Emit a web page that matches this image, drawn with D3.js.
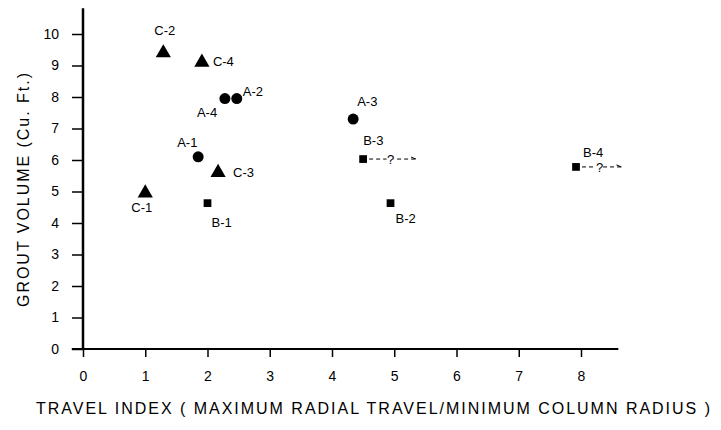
<!DOCTYPE html>
<meta charset="utf-8">
<style>
  body { margin: 0; background: #fff; }
  svg { font-family: "Liberation Sans", Arial, sans-serif; }
  .axis path, .axis line { stroke: #000; stroke-width: 2px; }
  .axis text { font-size: 14px; fill: #000; }
  .pt-label { font-size: 13px; fill: #000; }
  .title { font-size: 16px; fill: #000; }
</style>
<svg width="721" height="430"></svg>
<script src="https://cdn.jsdelivr.net/npm/d3@7/dist/d3.min.js"></script>
<script>

  // data
  var names = ["C-1", "C-2", "C-3", "C-4", "A-1", "A-2", "A-3", "A-4", "B-1", "B-2", "B-3", "B-4"];
  var travel = [1.0, 1.29, 2.17, 1.91, 1.85, 2.47, 4.34, 2.28, 2.0, 4.94, 4.5, 7.92];
  var grout = [4.95, 9.4, 5.6, 9.1, 6.1, 7.95, 7.3, 7.95, 4.63, 4.63, 6.03, 5.78];
  var shapes = ["tri", "tri", "tri", "tri", "circ", "circ", "circ", "circ", "sq", "sq", "sq", "sq"];
  // uncertain travel: dashed "?" arrow reaches this index
  var arrowTo = [null, null, null, null, null, null, null, null, null, null, 5.35, 8.65];

  var xTicks = [0, 1, 2, 3, 4, 5, 6, 7, 8];
  var yTicks = [0, 1, 2, 3, 4, 5, 6, 7, 8, 9, 10];

  // label offsets (px) from the marker, text anchored at start
  var labelPos = {
    "C-1": [-14, 19], "C-2": [-9, -18], "C-3": [15, 4], "C-4": [11, 4],
    "A-1": [-21, -10], "A-2": [6, -3], "A-3": [4, -13], "A-4": [-28, 18],
    "B-1": [4, 24], "B-2": [5, 20], "B-3": [0, -14], "B-4": [7, -10]
  };

  var svg = d3.select("svg");

  var x = d3.scaleLinear().domain([0, 8]).range([83, 581]);
  var y = d3.scaleLinear().domain([0, 10]).range([349, 34]);

  var points = names.map(function (n, i) {
    return { name: n, x: travel[i], y: grout[i], shape: shapes[i], to: arrowTo[i] };
  });

  // axes
  var xAxis = svg.append("g")
    .attr("class", "axis")
    .attr("transform", "translate(0," + y(0) + ")")
    .call(d3.axisBottom(x).tickValues(xTicks).tickFormat(d3.format("d")).tickSize(8).tickPadding(14));
  xAxis.select(".domain").remove();
  xAxis.selectAll(".tick line").style("stroke-width", "1.5px");

  var yAxis = svg.append("g")
    .attr("class", "axis")
    .attr("transform", "translate(" + x(0) + ",0)")
    .call(d3.axisLeft(y).tickValues(yTicks).tickFormat(d3.format("d")).tickSize(11).tickPadding(13));
  yAxis.select(".domain").remove();
  yAxis.selectAll(".tick line").style("stroke-width", "1.5px");

  svg.append("line")
    .attr("x1", x(-0.18)).attr("x2", x(8.6))
    .attr("y1", y(0)).attr("y2", y(0))
    .attr("stroke", "#000").attr("stroke-width", 2);

  svg.append("line")
    .attr("x1", x(0)).attr("x2", x(0))
    .attr("y1", y(0)).attr("y2", y(10.82))
    .attr("stroke", "#000").attr("stroke-width", 2.5);

  // uncertain arrows
  var arrows = svg.append("g").selectAll("g")
    .data(points.filter(function (d) { return d.to != null; }))
    .enter().append("g");

  arrows.append("line")
    .attr("x1", function (d) { return x(d.x) + 6; })
    .attr("x2", function (d) { return x(d.to); })
    .attr("y1", function (d) { return y(d.y); })
    .attr("y2", function (d) { return y(d.y); })
    .attr("stroke", "#000").attr("stroke-width", 1)
    .attr("stroke-dasharray", "4,3");

  arrows.append("path")
    .attr("d", function (d) {
      var ex = x(d.to), ey = y(d.y);
      return "M" + (ex - 5) + "," + (ey - 2) + "L" + ex + "," + ey;
    })
    .attr("fill", "none").attr("stroke", "#000").attr("stroke-width", 1);

  arrows.append("rect")
    .attr("x", function (d) { return (x(d.x) + x(d.to)) / 2 - 3; })
    .attr("y", function (d) { return y(d.y) - 3; })
    .attr("width", 7).attr("height", 6)
    .attr("fill", "#fff");

  arrows.append("text")
    .attr("class", "pt-label")
    .attr("x", function (d) { return (x(d.x) + x(d.to)) / 2 + 1; })
    .attr("y", function (d) { return y(d.y) + 5; })
    .attr("text-anchor", "middle")
    .text("?");

  // markers
  var tri = d3.symbol().type(d3.symbolTriangle).size(100);
  var circ = d3.symbol().type(d3.symbolCircle).size(95);
  var sq = d3.symbol().type(d3.symbolSquare).size(60);
  var sym = { tri: tri, circ: circ, sq: sq };

  svg.append("g").selectAll("path")
    .data(points)
    .enter().append("path")
    .attr("transform", function (d) { return "translate(" + x(d.x) + "," + y(d.y) + ")"; })
    .attr("d", function (d) { return sym[d.shape](); })
    .attr("fill", "#000");

  svg.append("g").selectAll("text")
    .data(points)
    .enter().append("text")
    .attr("class", "pt-label")
    .attr("x", function (d) { return x(d.x) + labelPos[d.name][0]; })
    .attr("y", function (d) { return y(d.y) + labelPos[d.name][1]; })
    .text(function (d) { return d.name; });

  // titles
  svg.append("text")
    .attr("class", "title")
    .attr("x", 36).attr("y", 414)
    .attr("textLength", 674).attr("lengthAdjust", "spacing")
    .text("TRAVEL INDEX ( MAXIMUM RADIAL TRAVEL/MINIMUM COLUMN RADIUS )");

  svg.append("text")
    .attr("class", "title")
    .attr("transform", "translate(29,190) rotate(-90)")
    .attr("text-anchor", "middle")
    .attr("textLength", 234).attr("lengthAdjust", "spacing")
    .text("GROUT VOLUME  (Cu.  Ft.)");

</script>
